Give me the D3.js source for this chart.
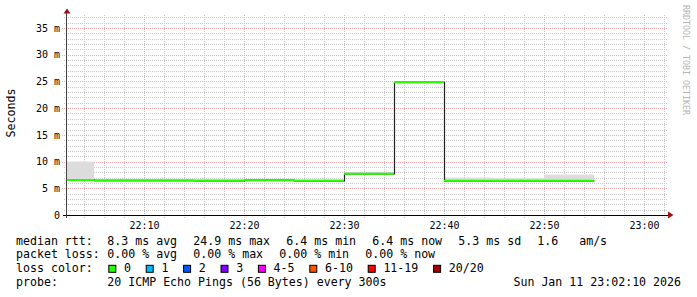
<!DOCTYPE html>
<html><head><meta charset="utf-8">
<script src="https://cdn.jsdelivr.net/npm/d3@7"></script>
<style>
body{margin:0;background:#fff}
svg text{font-family:"DejaVu Sans Mono",monospace;white-space:pre}
</style>
</head><body>
<svg id="chart" width="697" height="297"></svg>
<script>
// ---------- data ----------
const intervalStarts = ["22:00","22:05","22:10","22:15","22:20","22:25","22:30","22:35","22:40","22:45","22:50"];
const medianMs    = [6.55, 6.45, 6.45, 6.40, 6.50, 6.40, 7.70, 24.85, 6.40, 6.40, 6.40];
const smokeLowMs  = [6.45, 6.35, 6.35, 6.30, 6.40, 6.30, 7.60, 24.75, 6.30, 6.30, 6.30];
const smokeHighMs = [10.0, 6.75, 6.70, 6.65, 6.75, 6.60, 7.95, 25.00, 7.00, 6.90, 7.55];
const yTickValues = [0, 5, 10, 15, 20, 25, 30, 35];
const xTickLabels = ["22:10","22:20","22:30","22:40","22:50","23:00"];
const rttStats  = ["8.3 ms avg","24.9 ms max","6.4 ms min","6.4 ms now","5.3 ms sd","1.6   am/s"];
const lossStats = ["0.00 % avg","0.00 % max","0.00 % min","0.00 % now"];
const lossLabels = ["0","1","2","3","4-5","6-10","11-19","20/20"];
const probeText = "20 ICMP Echo Pings (56 Bytes) every 300s";
const stampText = "Sun Jan 11 23:02:10 2026";
const yLabel = "Seconds";
const watermark = "RRDTOOL / TOBI OETIKER";

// ---------- styles ----------
const lossColors = ["#26ff00","#00b8ff","#0059ff","#7e00ff","#ff00ff","#ff5500","#ff0000","#a10000"];
const FONT = 11.6, CW = 7.0;

const svg = d3.select("#chart");
const parse = d3.utcParse("%Y-%m-%d %H:%M:%S");
const T = s => parse("2026-01-11 " + (s.length === 5 ? s + ":00" : s));

const L = 67, R = 667, TOP = 15, BOT = 215;
const x = d3.scaleUtc().domain([T("22:02:18"), T("23:02:18")]).range([L, R]);
const y = d3.scaleLinear().domain([0, 200 / 5.343]).range([BOT, TOP]);

// ---------- grid ----------
const grid = svg.append("g");
const minorY = d3.range(1, 38).filter(v => v % 5 !== 0 && y(v) >= TOP);
grid.selectAll(".hmin").data(minorY).join("line")
  .attr("x1", 64).attr("x2", R).attr("y1", d => Math.round(y(d)) + 0.5).attr("y2", d => Math.round(y(d)) + 0.5)
  .attr("stroke", "#c8c8c8").attr("stroke-dasharray", "1,1");
const minorX = d3.utcMinute.every(2).range(x.domain()[0], x.domain()[1]).filter(d => d.getUTCMinutes() % 10 !== 0);
grid.selectAll(".vmin").data(minorX).join("line")
  .attr("x1", d => Math.round(x(d)) + 0.5).attr("x2", d => Math.round(x(d)) + 0.5).attr("y1", TOP).attr("y2", BOT + 3)
  .attr("stroke", "#c8c8c8").attr("stroke-dasharray", "1,1");
const majorY = yTickValues.filter(v => v > 0);
grid.selectAll(".hmaj").data(majorY).join("line")
  .attr("x1", 62).attr("x2", R).attr("y1", d => Math.round(y(d)) + 0.5).attr("y2", d => Math.round(y(d)) + 0.5)
  .attr("stroke", "#eeaaaa").attr("stroke-dasharray", "1,1");
const majorX = xTickLabels.map(T);
grid.selectAll(".vmaj").data(majorX).join("line")
  .attr("x1", d => Math.round(x(d)) + 0.5).attr("x2", d => Math.round(x(d)) + 0.5).attr("y1", TOP).attr("y2", BOT + 5)
  .attr("stroke", "#eeaaaa").attr("stroke-dasharray", "1,1");

// ---------- data marks ----------
svg.append("clipPath").attr("id", "plotclip").append("rect")
  .attr("x", L).attr("y", 0).attr("width", R - L).attr("height", BOT);
const plot = svg.append("g").attr("clip-path", "url(#plotclip)");

const rows = intervalStarts.map((s, i) => {
  const t0 = T(s);
  return { t0, t1: d3.utcMinute.offset(t0, 5), med: medianMs[i], lo: smokeLowMs[i], hi: smokeHighMs[i] };
});
const shade = d3.interpolateRgb("#8e8e8e", "#dcdcdc");
plot.selectAll(".smoke").data(rows).join("rect")
  .attr("x", d => x(d.t0)).attr("width", d => x(d.t1) - x(d.t0))
  .attr("y", d => y(d.hi)).attr("height", d => y(d.lo) - y(d.hi))
  .attr("fill", d => shade(Math.min(1, (d.hi - d.lo) / 0.6)));

const stepPts = rows.map(d => [d.t0, d.med]).concat([[rows[rows.length - 1].t1, rows[rows.length - 1].med]]);
plot.append("path")
  .attr("d", d3.line().x(d => Math.round(x(d[0])) + 0.5).y(d => y(d[1])).curve(d3.curveStepAfter)(stepPts))
  .attr("fill", "none").attr("stroke", "#202020").attr("stroke-width", 1.2);

plot.selectAll(".med").data(rows).join("line")
  .attr("x1", d => x(d.t0)).attr("x2", d => x(d.t1))
  .attr("y1", d => y(d.med)).attr("y2", d => y(d.med))
  .attr("stroke", lossColors[0]).attr("stroke-width", 2);

// ---------- axes ----------
const xAxis = svg.append("g").attr("transform", `translate(0,${BOT})`)
  .call(d3.axisBottom(x).tickValues(majorX).tickFormat(d3.utcFormat("%H:%M")).tickSize(0));
xAxis.select(".domain").remove();
xAxis.selectAll("text").attr("y", 14).attr("dy", 0)
  .style("font-family", "DejaVu Sans Mono").style("font-size", "10px").attr("fill", "#000");

const yAxis = svg.append("g").attr("transform", `translate(${L},0)`)
  .call(d3.axisLeft(y).tickValues(yTickValues).tickFormat(d => d === 0 ? "0" : d + " m").tickSize(0).tickPadding(7));
yAxis.select(".domain").remove();
yAxis.selectAll("text").style("font-family", "DejaVu Sans Mono").style("font-size", "10px").attr("fill", "#000");

svg.append("line").attr("x1", 63).attr("x2", 668).attr("y1", BOT + 0.5).attr("y2", BOT + 0.5)
  .attr("stroke", "#000").attr("stroke-width", 1);
svg.append("line").attr("x1", L - 0.5).attr("x2", L - 0.5).attr("y1", BOT + 3).attr("y2", 12)
  .attr("stroke", "#444").attr("stroke-width", 1);
svg.append("path").attr("d", "M63.5,13.5 L70.5,13.5 L67,8.5 Z").attr("fill", "#a01010");
svg.append("path").attr("d", "M668,211.5 L668,218.5 L673.5,215 Z").attr("fill", "#a01010");

// axis title & watermark
svg.append("text").attr("transform", "translate(15,113) rotate(-90)").attr("text-anchor", "middle")
  .style("font-size", FONT + "px").attr("fill", "#000").text(yLabel);
svg.append("text").attr("transform", "translate(683,5) rotate(90)").attr("text-anchor", "start")
  .style("font-size", "8.3px").attr("fill", "#b4b4b4").text(watermark);

// ---------- legend ----------
const LX = 16, VX = 107.3, GAP = 16;
const base = [244.5, 258.4, 272.3, 286.2];
function row(label, items, yb) {
  svg.append("text").attr("x", LX).attr("y", yb).style("font-size", FONT + "px").text(label);
  let cx = VX;
  items.forEach(s => {
    svg.append("text").attr("x", cx).attr("y", yb).style("font-size", FONT + "px").text(s);
    cx += s.length * CW + GAP;
  });
}
row("median rtt:", rttStats, base[0]);
row("packet loss:", lossStats, base[1]);
svg.append("text").attr("x", LX).attr("y", base[2]).style("font-size", FONT + "px").text("loss color:");
let bx = VX + 1;
lossLabels.forEach((lab, i) => {
  svg.append("rect").attr("x", bx + 0.5).attr("y", base[2] - 7).attr("width", 7).attr("height", 7)
    .attr("fill", lossColors[i]).attr("stroke", "#000").attr("stroke-width", 1);
  const tx = bx + 15.7;
  svg.append("text").attr("x", tx).attr("y", base[2]).style("font-size", FONT + "px").text(lab);
  bx = tx + lab.length * CW + 14.7;
});
svg.append("text").attr("x", LX).attr("y", base[3]).style("font-size", FONT + "px").text("probe:");
svg.append("text").attr("x", VX).attr("y", base[3]).style("font-size", FONT + "px").text(probeText);
svg.append("text").attr("x", 681).attr("y", base[3]).attr("text-anchor", "end").style("font-size", FONT + "px").text(stampText);
</script>
</body></html>
